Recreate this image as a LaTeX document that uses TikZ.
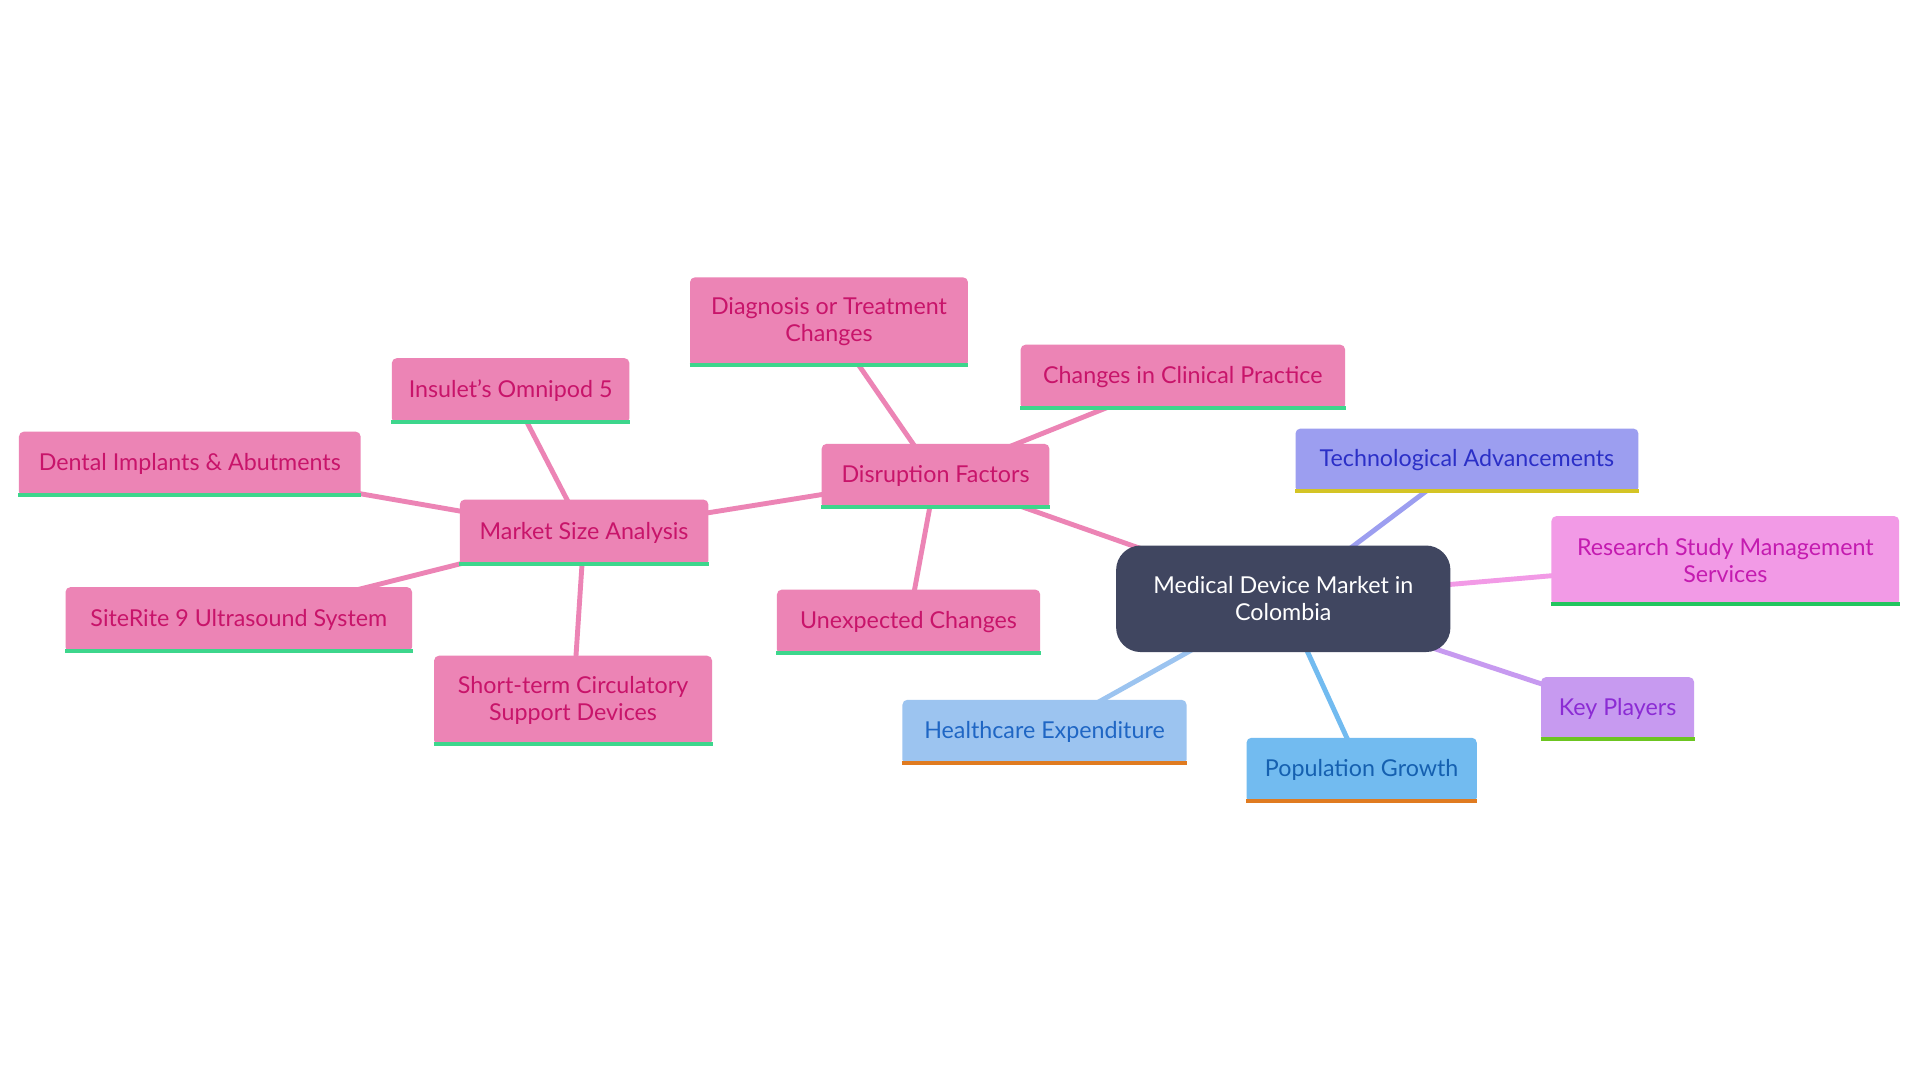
\documentclass[tikz,border=0pt]{standalone}
\usepackage{fontspec}
\setmainfont{Lato}
\usetikzlibrary{backgrounds}
\definecolor{pinkF}{HTML}{EC84B5}\definecolor{pinkT}{HTML}{C8146A}\definecolor{grn}{HTML}{3DD68C}
\definecolor{techF}{HTML}{9C9EF0}\definecolor{techT}{HTML}{2B2FC7}\definecolor{techL}{HTML}{D4C425}
\definecolor{resF}{HTML}{F29AE6}\definecolor{resT}{HTML}{C41BB0}\definecolor{resL}{HTML}{22C55E}
\definecolor{keyF}{HTML}{C79AF0}\definecolor{keyT}{HTML}{8B2BD4}\definecolor{keyL}{HTML}{6CC521}
\definecolor{popF}{HTML}{72BBF0}\definecolor{popT}{HTML}{1560B0}\definecolor{orL}{HTML}{E07B20}
\definecolor{heF}{HTML}{9CC4F0}\definecolor{heT}{HTML}{1F66C4}
\definecolor{ctr}{HTML}{404660}
\tikzset{box/.style={rectangle,rounded corners=2pt,inner sep=0pt,align=center,font=\fontsize{9.5}{11}\selectfont},
edge/.style={line width=2pt}}
\newcommand{\mnode}[9]{%
\node[box,fill=#6,text=#7,minimum width=#4*0.5pt,minimum height=#5*0.5pt] (#1) at (#2,#3) {#9};
\draw[#8,line width=1.6pt] ([yshift=0.8pt]#1.south west) -- ([yshift=0.8pt]#1.south east);}
\begin{document}
\begin{tikzpicture}[x=0.5pt,y=-0.5pt]
\useasboundingbox (0,0) rectangle (1568,882);
\node[box,fill=ctr,text=white,rounded corners=10pt,minimum width=136.5pt,minimum height=43.5pt] (c) at (1048,489) {Medical Device Market in\\Colombia};
\mnode{tech}{1198}{376}{280}{52}{techF}{techT}{techL}{Technological Advancements}
\mnode{res}{1409}{458}{284}{73}{resF}{resT}{resL}{Research Study Management\\Services}
\mnode{key}{1321}{579}{125}{52}{keyF}{keyT}{keyL}{Key Players}
\mnode{pop}{1112}{629}{188}{53}{popF}{popT}{orL}{Population Growth}
\mnode{he}{853}{598}{232}{53}{heF}{heT}{orL}{Healthcare Expenditure}
\mnode{dis}{764}{389}{186}{53}{pinkF}{pinkT}{grn}{Disruption Factors}
\mnode{diag}{677}{263}{227}{73}{pinkF}{pinkT}{grn}{Diagnosis or Treatment\\Changes}
\mnode{clin}{966}{308}{265}{53}{pinkF}{pinkT}{grn}{Changes in Clinical Practice}
\mnode{unex}{742}{508}{215}{53}{pinkF}{pinkT}{grn}{Unexpected Changes}
\mnode{msa}{477}{435}{203}{54}{pinkF}{pinkT}{grn}{Market Size Analysis}
\mnode{ins}{417}{319}{194}{53}{pinkF}{pinkT}{grn}{Insulet’s Omnipod 5}
\mnode{den}{155}{379}{279}{53}{pinkF}{pinkT}{grn}{Dental Implants \& Abutments}
\mnode{site}{195}{506}{283}{53}{pinkF}{pinkT}{grn}{SiteRite 9 Ultrasound System}
\mnode{short}{468}{572}{227}{73}{pinkF}{pinkT}{grn}{Short-term Circulatory\\Support Devices}
\begin{scope}[on background layer]
\fill[white] (0,0) rectangle (1568,882);
\draw[edge,techF] (c.center) -- (tech.center);
\draw[edge,resF] (c.center) -- (res.center);
\draw[edge,keyF] (c.center) -- (key.center);
\draw[edge,popF] (c.center) -- (pop.center);
\draw[edge,heF] (c.center) -- (he.center);
\draw[edge,pinkF] (c.center) -- (dis.center);
\draw[edge,pinkF] (dis.center) -- (diag.center);
\draw[edge,pinkF] (dis.center) -- (clin.center);
\draw[edge,pinkF] (dis.center) -- (unex.center);
\draw[edge,pinkF] (dis.center) -- (msa.center);
\draw[edge,pinkF] (msa.center) -- (ins.center);
\draw[edge,pinkF] (msa.center) -- (den.center);
\draw[edge,pinkF] (msa.center) -- (site.center);
\draw[edge,pinkF] (msa.center) -- (short.center);
\end{scope}
\end{tikzpicture}
\end{document}
